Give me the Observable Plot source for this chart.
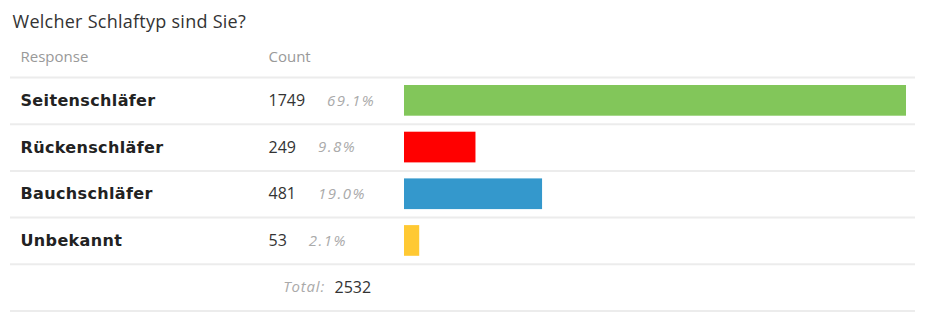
<!DOCTYPE html>
<html><head><meta charset="utf-8">
<script src="https://cdn.jsdelivr.net/npm/d3@7"></script>
<script src="https://cdn.jsdelivr.net/npm/@observablehq/plot@0.6"></script>
<style>body{margin:0;background:#fff} svg{display:block}</style>
</head><body><div id="chart"></div>
<script>
const title = "Welcher Schlaftyp sind Sie?";
const headerResponse = "Response";
const headerCount = "Count";
const categories = ["Seitenschläfer", "Rückenschläfer", "Bauchschläfer", "Unbekannt"];
const counts = [1749, 249, 481, 53];
const percents = ["69.1%", "9.8%", "19.0%", "2.1%"];
const colors = ["#82c65a", "#ff0000", "#3498cc", "#ffc933"];
const totalLabel = "Total:";
const total = 2532;

const W = 929, H = 327;
const totalKey = "__total";
const yDomain = [...categories, totalKey];
const yRange = [77, 310.5];
const step = (yRange[1] - yRange[0]) / yDomain.length;
const barRange = [404, 906];
const maxCount = d3.max(counts);

const rows = categories.map((c, i) => ({category: c, count: counts[i], pct: percents[i]}));

// measure count text to place percentages right after it
const ctx = document.createElement("canvas").getContext("2d");
ctx.font = "16px 'Open Sans'";
const xs = d3.scaleLinear([0, maxCount], barRange);
const countX = 268, gap = 22;
rows.forEach(r => { r.pctX = xs.invert(countX + ctx.measureText(String(r.count)).width + gap); });

const sans = "'Open Sans', sans-serif";

const chart = Plot.plot({
  width: W, height: H,
  marginTop: 0, marginBottom: 0, marginLeft: 10, marginRight: 14,
  style: {background: "#fff"},
  x: {domain: [0, maxCount], range: barRange, axis: null},
  y: {type: "band", domain: yDomain, range: yRange, padding: 0, round: false, axis: null},
  color: {domain: categories, range: colors},
  marks: [
    Plot.ruleY(yDomain, {dy: -step / 2, stroke: "#ececec", strokeWidth: 2}),
    Plot.ruleY([totalKey], {dy: step / 2, stroke: "#ececec", strokeWidth: 2}),
    Plot.barX(rows, {y: "category", x: "count", fill: "category", insetTop: 8, insetBottom: 8}),
    Plot.text([title], {frameAnchor: "top-left", dx: 2, dy: 21.5, textAnchor: "start", lineAnchor: "middle",
      fontSize: 18, fontFamily: sans, fill: "#333"}),
    Plot.text([headerResponse], {frameAnchor: "top-left", dx: 10, dy: 57, textAnchor: "start", lineAnchor: "middle",
      fontSize: 15, fontFamily: sans, fill: "#999"}),
    Plot.text([headerCount], {frameAnchor: "top-left", dx: 258, dy: 57, textAnchor: "start", lineAnchor: "middle",
      fontSize: 15, fontFamily: sans, fill: "#999"}),
    Plot.text(rows, {y: "category", text: "category", frameAnchor: "left", dx: 10, textAnchor: "start",
      fontSize: 16, fontWeight: "bold", fontFamily: "'DejaVu Sans', sans-serif", fill: "#222"}),
    Plot.text(rows, {y: "category", text: d => String(d.count), frameAnchor: "left", dx: 258, textAnchor: "start",
      fontSize: 16, fontFamily: sans, fill: "#333"}),
    Plot.text(rows, {y: "category", x: "pctX", text: "pct", textAnchor: "start",
      fontSize: 15, fontStyle: "italic", fontFamily: sans, fill: "#aaa"}),
    Plot.text([totalKey], {y: d => d, text: () => totalLabel, x: () => xs.invert(324.5), textAnchor: "end",
      fontSize: 15, fontStyle: "italic", fontFamily: sans, fill: "#aaa"}),
    Plot.text([totalKey], {y: d => d, text: () => String(total), x: () => xs.invert(334), textAnchor: "start",
      fontSize: 16, fontFamily: sans, fill: "#333"})
  ]
});
const spacing = new Map([[title, "0.26px"], [totalLabel, "0.8px"]]);
categories.forEach(c => spacing.set(c, "0.35px"));
percents.forEach(p => spacing.set(p, "1.5px"));
chart.querySelectorAll("text").forEach(t => {
  const v = spacing.get(t.textContent);
  if (v) t.setAttribute("letter-spacing", v), t.style.letterSpacing = v;
});
document.getElementById("chart").append(chart);
</script>
</body></html>
